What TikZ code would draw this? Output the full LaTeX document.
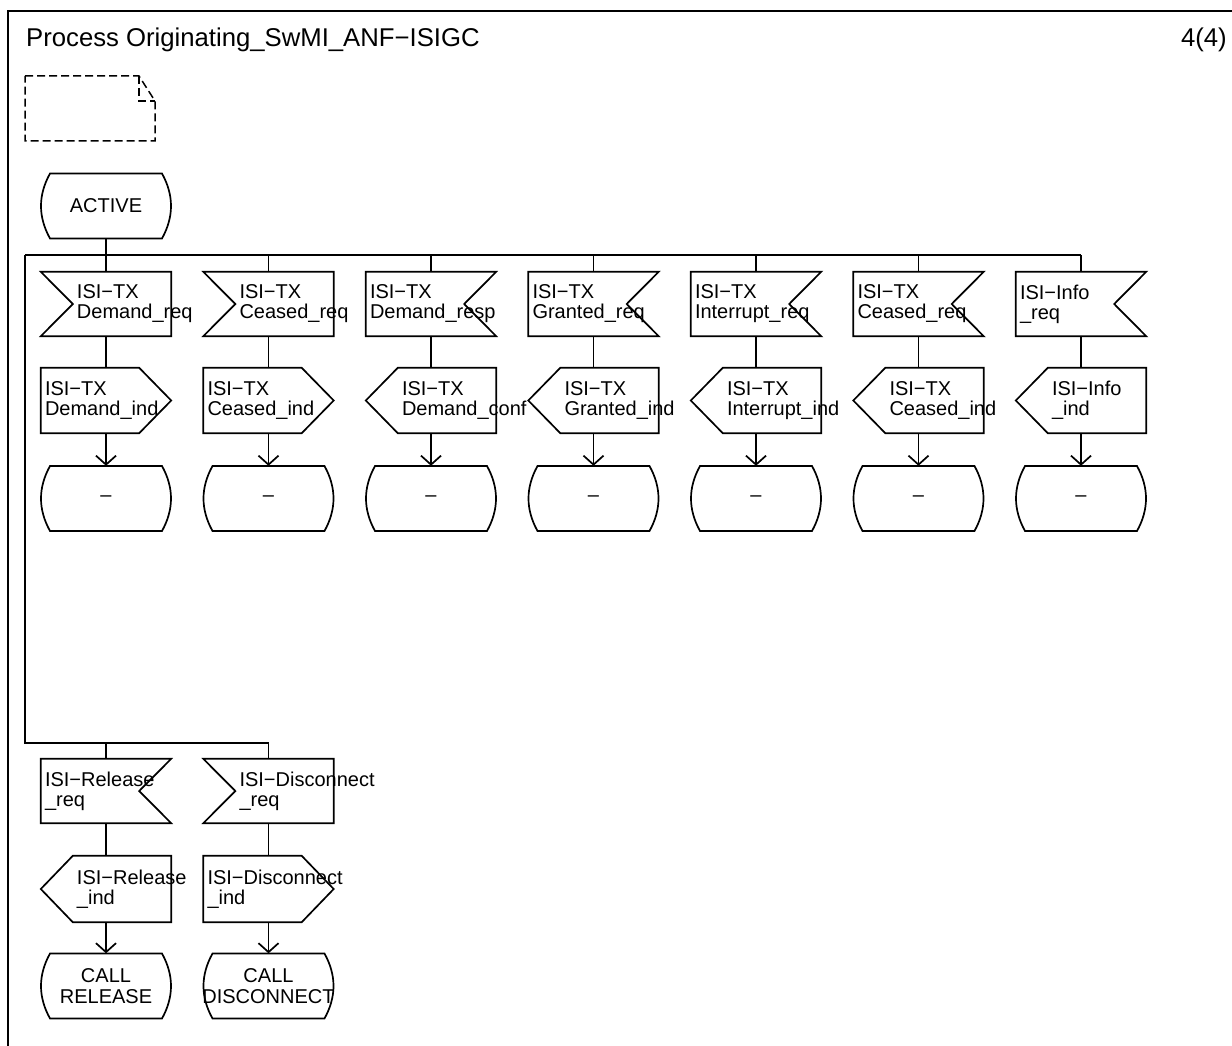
\documentclass[tikz,border=0pt]{standalone}
\usepackage{fontspec}
\setmainfont{Liberation Sans}
\usetikzlibrary{arrows.meta}
\newcommand\nsh{\hspace*{32pt}}
\newcommand\nohy{\hyphenpenalty=10000\relax\exhyphenpenalty=10000\relax}
\newcommand\shpInL[1]{\draw[shp] (#1.north west) -- (#1.north east) -- (#1.south east) -- (#1.south west) -- ([xshift=32pt]#1.west) -- cycle;}
\newcommand\shpInR[1]{\draw[shp] (#1.north west) -- (#1.north east) -- ([xshift=-32pt]#1.east) -- (#1.south east) -- (#1.south west) -- cycle;}
\newcommand\shpOutR[1]{\draw[shp] (#1.north west) -- ([xshift=-32pt]#1.north east) -- (#1.east) -- ([xshift=-32pt]#1.south east) -- (#1.south west) -- cycle;}
\newcommand\shpOutL[1]{\draw[shp] ([xshift=32pt]#1.north west) -- (#1.north east) -- (#1.south east) -- ([xshift=32pt]#1.south west) -- (#1.west) -- cycle;}
\newcommand\shpState[1]{\draw[shp] ([shift={(-56,-32.5)}]#1.center) -- ([shift={(56,-32.5)}]#1.center)
   .. controls +(12,21.7) and +(12,-21.7) .. ([shift={(56,32.5)}]#1.center)
   -- ([shift={(-56,32.5)}]#1.center)
   .. controls +(-12,-21.7) and +(-12,21.7) .. ([shift={(-56,-32.5)}]#1.center) -- cycle;}
\begin{document}
\begin{tikzpicture}[x=1pt,y=-1pt,
  shp/.style={draw=black,line width=1.7pt,line join=miter},
  sig/.style={rectangle,inner xsep=4pt,inner ysep=0pt,text width=122pt,align=left,minimum height=64pt,font=\fontsize{20}{20}\selectfont\nohy},
  st/.style={rectangle,inner sep=0pt,minimum width=130pt,minimum height=65pt,align=center,font=\fontsize{20}{20.5}\selectfont},
  conn/.style={line width=1.7pt},
  bus/.style={line width=2.4pt},
  arr/.style={line width=1.7pt,-{Straight Barb[length=9pt,width=20pt]}},
  cmt/.style={line width=1.5pt,dash pattern=on 8pt off 4pt}]
\fill[white] (0,0) rectangle (1232,1046);
\useasboundingbox (0,0) rectangle (1232,1046);
% frame
\draw[line width=1.8pt] (8,1046) -- (8,11) -- (1232,11);
\node[anchor=base west,inner sep=0pt,font=\fontsize{25.7}{30}\selectfont] (title) at (26,46.7) {Process Originating\_SwMI\_ANF−ISIGC};
\node[anchor=base east,inner sep=0pt,font=\fontsize{25.7}{30}\selectfont] (page) at (1227,46.7) {4(4)};
% comment
\draw[cmt] (25,76) -- (139,76) -- (155,101) -- (155,141) -- (25,141) -- cycle;
\draw[cmt] (139,76) -- (139,101) -- (155,101);
% start state
\node[st] (active) at (106,206) {ACTIVE};
\shpState{active}
% row 1 inputs
\node[sig] (i1) at (106,304) {\nsh ISI−TX\\\nsh Demand\_req};
\node[sig] (i2) at (268.5,304) {\nsh ISI−TX\\\nsh Ceased\_req};
\node[sig] (i3) at (431,304) {ISI−TX\\Demand\_resp};
\node[sig] (i4) at (593.5,304) {ISI−TX\\Granted\_req};
\node[sig] (i5) at (756,304) {ISI−TX\\Interrupt\_req};
\node[sig] (i6) at (918.5,304) {ISI−TX\\Ceased\_req};
\node[sig] (i7) at (1081,304) {ISI−Info\\\_req};
\shpInL{i1}\shpInL{i2}\shpInR{i3}\shpInR{i4}\shpInR{i5}\shpInR{i6}\shpInR{i7}
% row 2 outputs
\node[sig,minimum height=65pt] (o1) at (106,400.5) {ISI−TX\\Demand\_ind};
\node[sig,minimum height=65pt] (o2) at (268.5,400.5) {ISI−TX\\Ceased\_ind};
\node[sig,minimum height=65pt] (o3) at (431,400.5) {\nsh ISI−TX\\\nsh Demand\_conf};
\node[sig,minimum height=65pt] (o4) at (593.5,400.5) {\nsh ISI−TX\\\nsh Granted\_ind};
\node[sig,minimum height=65pt] (o5) at (756,400.5) {\nsh ISI−TX\\\nsh Interrupt\_ind};
\node[sig,minimum height=65pt] (o6) at (918.5,400.5) {\nsh ISI−TX\\\nsh Ceased\_ind};
\node[sig,minimum height=65pt] (o7) at (1081,400.5) {\nsh ISI−Info\\\nsh \_ind};
\shpOutR{o1}\shpOutR{o2}\shpOutL{o3}\shpOutL{o4}\shpOutL{o5}\shpOutL{o6}\shpOutL{o7}
% row 3 states
\foreach \k/\x in {1/106,2/268.5,3/431,4/593.5,5/756,6/918.5,7/1081}{
  \node[st] (s\k) at (\x,498.5) {–};
  \shpState{s\k}
}
% bottom branch
\node[sig] (j1) at (106,791) {ISI−Release\\\_req};
\node[sig] (j2) at (268.5,791) {\nsh ISI−Disconnect\\\nsh \_req};
\shpInR{j1}\shpInL{j2}
\node[sig,minimum height=66pt] (p1) at (106,889) {\nsh ISI−Release\\\nsh \_ind};
\node[sig,minimum height=66pt] (p2) at (268.5,889) {ISI−Disconnect\\\_ind};
\shpOutL{p1}\shpOutR{p2}
\node[st] (t1) at (106,986) {CALL\\RELEASE};
\node[st] (t2) at (268.5,986) {CALL\\DISCONNECT};
\shpState{t1}\shpState{t2}
% connectors
\coordinate (b0) at (25,255);
\coordinate (b1) at (25,743);
\draw[conn] (active.south) -- (active.south |- b0);
\draw[bus] (b0) -- (i7.north |- b0);
\foreach \k in {1,...,7}{
  \draw[conn] (i\k.north |- b0) -- (i\k.north);
  \draw[conn] (i\k.south) -- (o\k.north);
  \draw[arr] (o\k.south) -- (s\k.north);
}
\draw[conn] (b0) -- (b1) -- (j2.north |- b1) -- (j2.north);
\draw[conn] (j1.north |- b1) -- (j1.north);
\draw[conn] (j1.south) -- (p1.north);
\draw[conn] (j2.south) -- (p2.north);
\draw[arr] (p1.south) -- (t1.north);
\draw[arr] (p2.south) -- (t2.north);
\end{tikzpicture}
\end{document}
